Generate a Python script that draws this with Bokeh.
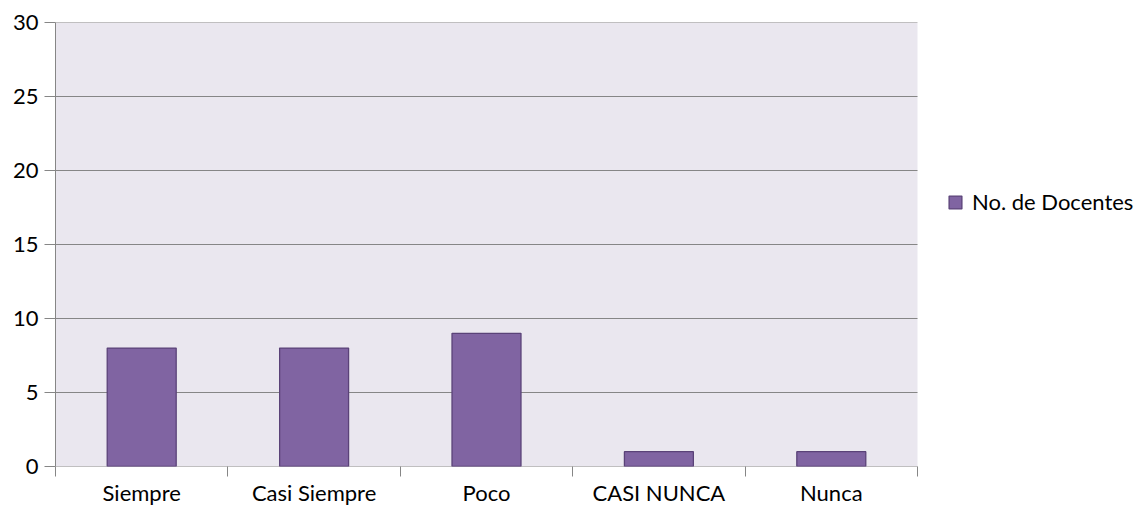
from bokeh.plotting import figure
from bokeh.models import ColumnDataSource, FixedTicker, Range1d, Legend, LegendItem
from bokeh.embed import file_html
from bokeh.resources import INLINE

categories = ["Siempre", "Casi Siempre", "Poco", "CASI NUNCA", "Nunca"]
docentes = [8, 8, 9, 1, 1]
series_name = "No. de Docentes"
y_ticks = [0, 5, 10, 15, 20, 25, 30]

FONT = "Lato"
FS = "22px"
GRAY = "#868686"
n = len(categories)
xs = [i + 0.5 for i in range(n)]
src = ColumnDataSource(dict(x=xs, top=docentes, cat=categories))

# frame spans to the right page edge; the plot area covers categories 0..n
x_end = n * (1143 - 55) / (917 - 55)
p = figure(width=1143, height=508, output_backend="svg", toolbar_location=None,
           x_range=Range1d(0, x_end), y_range=Range1d(y_ticks[0], y_ticks[-1]),
           min_border_left=55, min_border_right=0, min_border_top=22, min_border_bottom=42)
p.border_fill_color = "white"
p.background_fill_color = "white"
p.outline_line_color = None
p.xgrid.grid_line_color = None
p.ygrid.grid_line_color = None

# plot area background
p.quad(left=[0], right=[n], bottom=[y_ticks[0]], top=[y_ticks[-1]],
       fill_color="#EAE7EF", line_color=None)
# horizontal gridlines
gsrc = ColumnDataSource(dict(x0=[0] * len(y_ticks), x1=[n] * len(y_ticks), y=y_ticks))
p.segment(x0="x0", x1="x1", y0="y", y1="y", source=gsrc, line_color=GRAY, line_width=1)

r = p.vbar(x="x", top="top", width=0.4, bottom=0, source=src,
           fill_color="#8064A2", line_color="#5A4278", line_width=1.3)

# y axis
p.yaxis.ticker = FixedTicker(ticks=y_ticks)
p.yaxis.axis_line_color = GRAY
p.yaxis.major_tick_line_color = GRAY
p.yaxis.major_tick_out = 11
p.yaxis.major_tick_in = 0
p.yaxis.minor_tick_line_color = None
p.yaxis.major_label_text_font = FONT
p.yaxis.major_label_text_font_size = FS
p.yaxis.major_label_text_color = "#000000"
p.yaxis.major_label_standoff = 6

# x axis
p.xaxis.ticker = FixedTicker(ticks=xs, minor_ticks=list(range(n + 1)))
p.xaxis.major_label_overrides = {x: c for x, c in zip(xs, categories)}
p.xaxis.axis_line_color = None
p.xaxis.major_tick_line_color = None
p.xaxis.major_tick_out = 0
p.xaxis.major_tick_in = 0
p.xaxis.minor_tick_line_color = GRAY
p.xaxis.minor_tick_out = 10
p.xaxis.minor_tick_in = 0
p.xaxis.major_label_text_font = FONT
p.xaxis.major_label_text_font_size = FS
p.xaxis.major_label_text_color = "#000000"
p.xaxis.major_label_standoff = 2

legend = Legend(items=[LegendItem(label=series_name, renderers=[r])],
                location=(892, 251), border_line_color=None, background_fill_alpha=0,
                padding=0, margin=0, glyph_width=16, glyph_height=16, label_standoff=9,
                label_height=20,
                label_text_font=FONT, label_text_font_size=FS, label_text_color="#000000")
p.add_layout(legend, "center")

open("out.html", "w").write(file_html(p, INLINE))
